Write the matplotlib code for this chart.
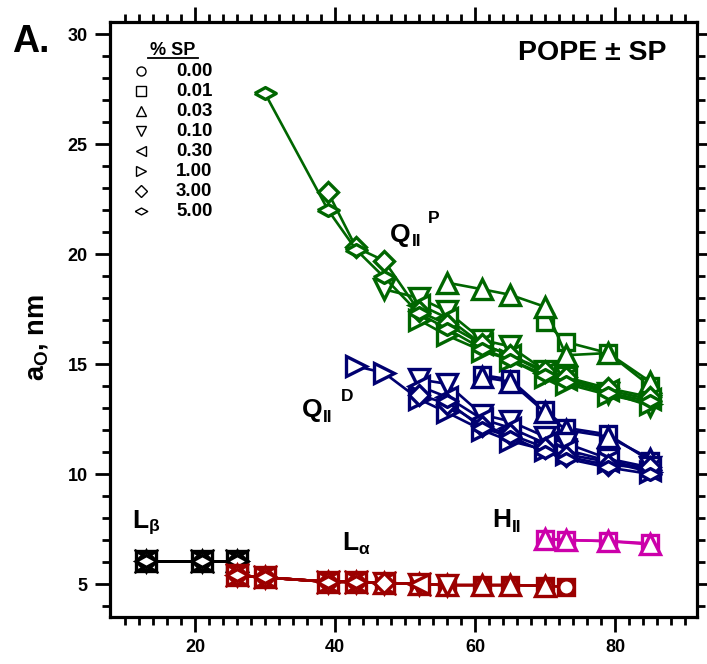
import matplotlib
matplotlib.use('Agg')
import matplotlib.pyplot as plt

plt.rcParams['font.family'] = ['Liberation Sans', 'DejaVu Sans']
plt.rcParams['font.weight'] = 'bold'
plt.rcParams['mathtext.fontset'] = 'custom'
plt.rcParams['mathtext.rm'] = 'Liberation Sans:bold'
plt.rcParams['mathtext.it'] = 'Liberation Sans:bold'
plt.rcParams['mathtext.bf'] = 'Liberation Sans:bold'

# ---------------- data ----------------
SP_LABELS = ['0.00', '0.01', '0.03', '0.10', '0.30', '1.00', '3.00', '5.00']

# L-beta (all SP levels coincide)
LB_T = [13, 21, 26]
LB_A = [6.05, 6.05, 6.05]

# L-alpha
LA_T_000 = [26, 30, 39, 43, 47, 52, 56, 61, 65, 70, 73]
LA_A_000 = [5.40, 5.30, 5.10, 5.10, 5.05, 5.00, 4.95, 4.95, 4.95, 4.92, 4.87]
LA_T_001 = [26, 30, 39, 43, 47, 52, 56, 61, 65, 70, 73]
LA_A_001 = [5.40, 5.30, 5.10, 5.10, 5.05, 5.00, 4.95, 4.95, 4.95, 4.92, 4.87]
LA_T_003 = [26, 30, 39, 43, 47, 52, 56, 61, 65, 70]
LA_A_003 = [5.40, 5.30, 5.10, 5.10, 5.05, 5.00, 4.95, 4.95, 4.95, 4.92]
LA_T_010 = [26, 30, 39, 43, 47, 52, 56]
LA_A_010 = [5.40, 5.30, 5.10, 5.10, 5.05, 5.00, 4.95]
LA_T_030 = [26, 30, 39, 43, 47, 52]
LA_A_030 = [5.40, 5.30, 5.10, 5.10, 5.05, 5.00]
LA_T_100 = [26, 30, 39, 43]
LA_A_100 = [5.40, 5.30, 5.10, 5.10]
LA_T_300 = [26, 30, 39, 43, 47]
LA_A_300 = [5.40, 5.30, 5.10, 5.10, 5.05]
LA_T_500 = [26, 30, 39, 43]
LA_A_500 = [5.40, 5.30, 5.10, 5.10]

# H-II
H_T_001 = [70, 73, 79, 85]
H_A_001 = [7.05, 7.00, 6.95, 6.85]
H_T_003 = [70, 73, 79, 85]
H_A_003 = [7.05, 7.00, 6.95, 6.80]

# Q-II primitive (green)
QP_T_001 = [70, 73, 79, 85]
QP_A_001 = [16.9, 16.0, 15.5, 14.0]
QP_T_003 = [56, 61, 65, 70, 73, 79, 85]
QP_A_003 = [18.7, 18.4, 18.15, 17.6, 15.4, 15.5, 14.2]
QP_T_010 = [47, 52, 56, 61, 65, 70, 73, 79, 85]
QP_A_010 = [18.4, 18.0, 17.4, 16.1, 15.8, 14.7, 14.4, 13.7, 13.1]
QP_T_030 = [52, 56, 61, 65, 70, 73, 79, 85]
QP_A_030 = [17.7, 17.1, 15.9, 15.4, 14.6, 14.3, 13.8, 13.4]
QP_T_100 = [52, 56, 61, 65, 70, 73, 79, 85]
QP_A_100 = [17.0, 16.3, 15.6, 15.2, 14.4, 14.1, 13.6, 13.2]
QP_T_300 = [39, 43, 47, 52, 56, 61, 65, 70, 73, 79, 85]
QP_A_300 = [22.8, 20.3, 19.7, 17.4, 16.8, 15.9, 15.4, 14.7, 14.4, 13.9, 13.5]
QP_T_500 = [30, 39, 43, 47, 52, 56, 61, 65, 70, 73, 79, 85]
QP_A_500 = [27.3, 22.0, 20.2, 18.95, 17.3, 16.6, 15.7, 15.2, 14.5, 14.2, 13.7, 13.3]

# Q-II diamond (navy)
QD_T_001 = [61, 65, 70, 73, 79, 85]
QD_A_001 = [14.5, 14.3, 12.9, 12.1, 11.8, 10.6]
QD_T_003 = [61, 65, 70, 73, 79, 85]
QD_A_003 = [14.4, 14.2, 12.8, 12.0, 11.7, 10.7]
QD_T_010 = [52, 56, 61, 65, 70, 73, 79, 85]
QD_A_010 = [14.3, 14.1, 12.7, 12.4, 11.7, 11.4, 10.7, 10.3]
QD_T_030 = [52, 56, 61, 65, 70, 73, 79, 85]
QD_A_030 = [14.0, 13.5, 12.5, 12.1, 11.4, 11.1, 10.6, 10.2]
QD_T_100 = [43, 47, 52, 56, 61, 65, 70, 73, 79, 85]
QD_A_100 = [14.9, 14.6, 13.4, 12.8, 12.0, 11.5, 11.1, 10.9, 10.55, 10.1]
QD_T_300 = [52, 56, 61, 65, 70, 73, 79, 85]
QD_A_300 = [13.6, 13.2, 12.2, 11.8, 11.2, 10.8, 10.4, 10.3]
QD_T_500 = [56, 61, 65, 70, 73, 79, 85]
QD_A_500 = [13.3, 12.1, 11.7, 11.0, 10.7, 10.3, 10.0]

# ---------------- styles ----------------
WIDE_DIAMOND = [(-1, 0), (0, 0.55), (1, 0), (0, -0.55), (-1, 0)]
MARKERS = {'0.00': 'o', '0.01': 's', '0.03': '^', '0.10': 'v',
           '0.30': '<', '1.00': '>', '3.00': 'D', '5.00': WIDE_DIAMOND}
MSIZE = {'0.00': 11, '0.01': 11.5, '0.03': 14, '0.10': 14,
         '0.30': 14, '1.00': 14, '3.00': 10.5, '5.00': 15.5}
LEG_MSIZE = {'0.00': 6.5, '0.01': 6.5, '0.03': 7.5, '0.10': 7.5,
             '0.30': 7.5, '1.00': 7.5, '3.00': 6, '5.00': 9}
DRAW_ORDER = ['0.01', '0.00', '0.03', '0.10', '0.30', '1.00', '3.00', '5.00']

C_LB = 'black'
C_LA = '#9b0000'
C_H = '#cc00aa'
C_QP = '#006600'
C_QD = '#000070'

LA = {'0.00': (LA_T_000, LA_A_000), '0.01': (LA_T_001, LA_A_001),
      '0.03': (LA_T_003, LA_A_003), '0.10': (LA_T_010, LA_A_010),
      '0.30': (LA_T_030, LA_A_030), '1.00': (LA_T_100, LA_A_100),
      '3.00': (LA_T_300, LA_A_300), '5.00': (LA_T_500, LA_A_500)}
HII = {'0.01': (H_T_001, H_A_001), '0.03': (H_T_003, H_A_003)}
QP = {'0.01': (QP_T_001, QP_A_001), '0.03': (QP_T_003, QP_A_003),
      '0.10': (QP_T_010, QP_A_010), '0.30': (QP_T_030, QP_A_030),
      '1.00': (QP_T_100, QP_A_100), '3.00': (QP_T_300, QP_A_300),
      '5.00': (QP_T_500, QP_A_500)}
QD = {'0.01': (QD_T_001, QD_A_001), '0.03': (QD_T_003, QD_A_003),
      '0.10': (QD_T_010, QD_A_010), '0.30': (QD_T_030, QD_A_030),
      '1.00': (QD_T_100, QD_A_100), '3.00': (QD_T_300, QD_A_300),
      '5.00': (QD_T_500, QD_A_500)}

fig = plt.figure(figsize=(7.07, 6.64), dpi=100)
ax = fig.add_axes([110 / 707, 47 / 664, 587 / 707, 595 / 664])

z = [2]


def draw(phase, color):
    for sp in DRAW_ORDER:
        if sp not in phase:
            continue
        t, a = phase[sp]
        ax.plot(t, a, color=color, lw=1.9, marker=MARKERS[sp], ms=MSIZE[sp],
                mfc='white', mec=color, mew=2.4, zorder=z[0])
        z[0] += 0.01


draw({sp: (LB_T, LB_A) for sp in SP_LABELS}, C_LB)
draw(LA, C_LA)
draw(HII, C_H)
draw(QP, C_QP)
draw(QD, C_QD)

# ---------------- axes ----------------
ax.set_xlim(7.85, 91.7)
ax.set_ylim(3.5, 30.55)
ax.xaxis.set_major_locator(plt.FixedLocator([20, 40, 60, 80]))
ax.xaxis.set_minor_locator(plt.FixedLocator(list(range(10, 92, 2))))
ax.yaxis.set_major_locator(plt.FixedLocator([5, 10, 15, 20, 25, 30]))
ax.yaxis.set_minor_locator(plt.FixedLocator(list(range(4, 31))))
for s in ax.spines.values():
    s.set_linewidth(2.3)
ax.tick_params(which='both', direction='out', top=True, right=True,
               width=2.0, labelsize=13, pad=5)
ax.tick_params(which='major', length=11)
ax.tick_params(which='minor', length=5.5)
for lab in ax.get_xticklabels() + ax.get_yticklabels():
    lab.set_fontweight('bold')

fig.text(37 / 707, 1 - 337 / 664, r'a$_{\rm O}$, nm', rotation=90,
         ha='center', va='center', fontsize=19.5, fontweight='bold')
fig.text(12 / 707, 1 - 52 / 664, 'A.', fontsize=27, fontweight='bold',
         ha='left', va='baseline')
fig.text(667 / 707, 1 - 60 / 664, 'POPE \u00b1 SP', fontsize=20.5,
         fontweight='bold', ha='right', va='baseline')

# ---------------- phase labels ----------------
big = 19
small = 12.5
ax.text(11.0, 7.55, 'L', fontsize=big, ha='left', va='baseline')
ax.text(13.4, 7.42, '\u03b2', fontsize=small, ha='left', va='baseline')
ax.text(41.0, 6.55, 'L', fontsize=big, ha='left', va='baseline')
ax.text(43.4, 6.36, '\u03b1', fontsize=small, ha='left', va='baseline')
ax.text(62.4, 7.6, 'H', fontsize=big, ha='left', va='baseline')
ax.text(65.3, 7.36, 'II', fontsize=small, ha='left', va='baseline')
ax.text(35.2, 12.6, 'Q', fontsize=big, ha='left', va='baseline')
ax.text(38.3, 12.36, 'II', fontsize=small, ha='left', va='baseline')
ax.text(40.8, 13.3, 'D', fontsize=small, ha='left', va='baseline')
ax.text(47.8, 20.55, 'Q', fontsize=big, ha='left', va='baseline')
ax.text(50.9, 20.36, 'II', fontsize=small, ha='left', va='baseline')
ax.text(53.2, 21.4, 'P', fontsize=small, ha='left', va='baseline')

# ---------------- legend ----------------
fx = lambda px: (px - 110) / 587
fy = lambda py: (617 - py) / 595
ax.text(fx(173), fy(55), '% SP', transform=ax.transAxes, fontsize=13,
        ha='center', va='baseline')
ax.plot([fx(148), fx(198)], [fy(57.5), fy(57.5)], transform=ax.transAxes,
        color='black', lw=1.3, clip_on=False)
rows = [71, 91, 111, 131, 151, 171, 191, 211]
for sp, py in zip(SP_LABELS, rows):
    ax.plot([fx(141)], [fy(py)], transform=ax.transAxes, marker=MARKERS[sp],
            ms=LEG_MSIZE[sp], mfc='white', mec='black', mew=1.0, ls='none')
    ax.text(fx(176), fy(py), sp, transform=ax.transAxes, fontsize=13.5,
            ha='left', va='center')

fig.savefig('out.png', dpi=100)
